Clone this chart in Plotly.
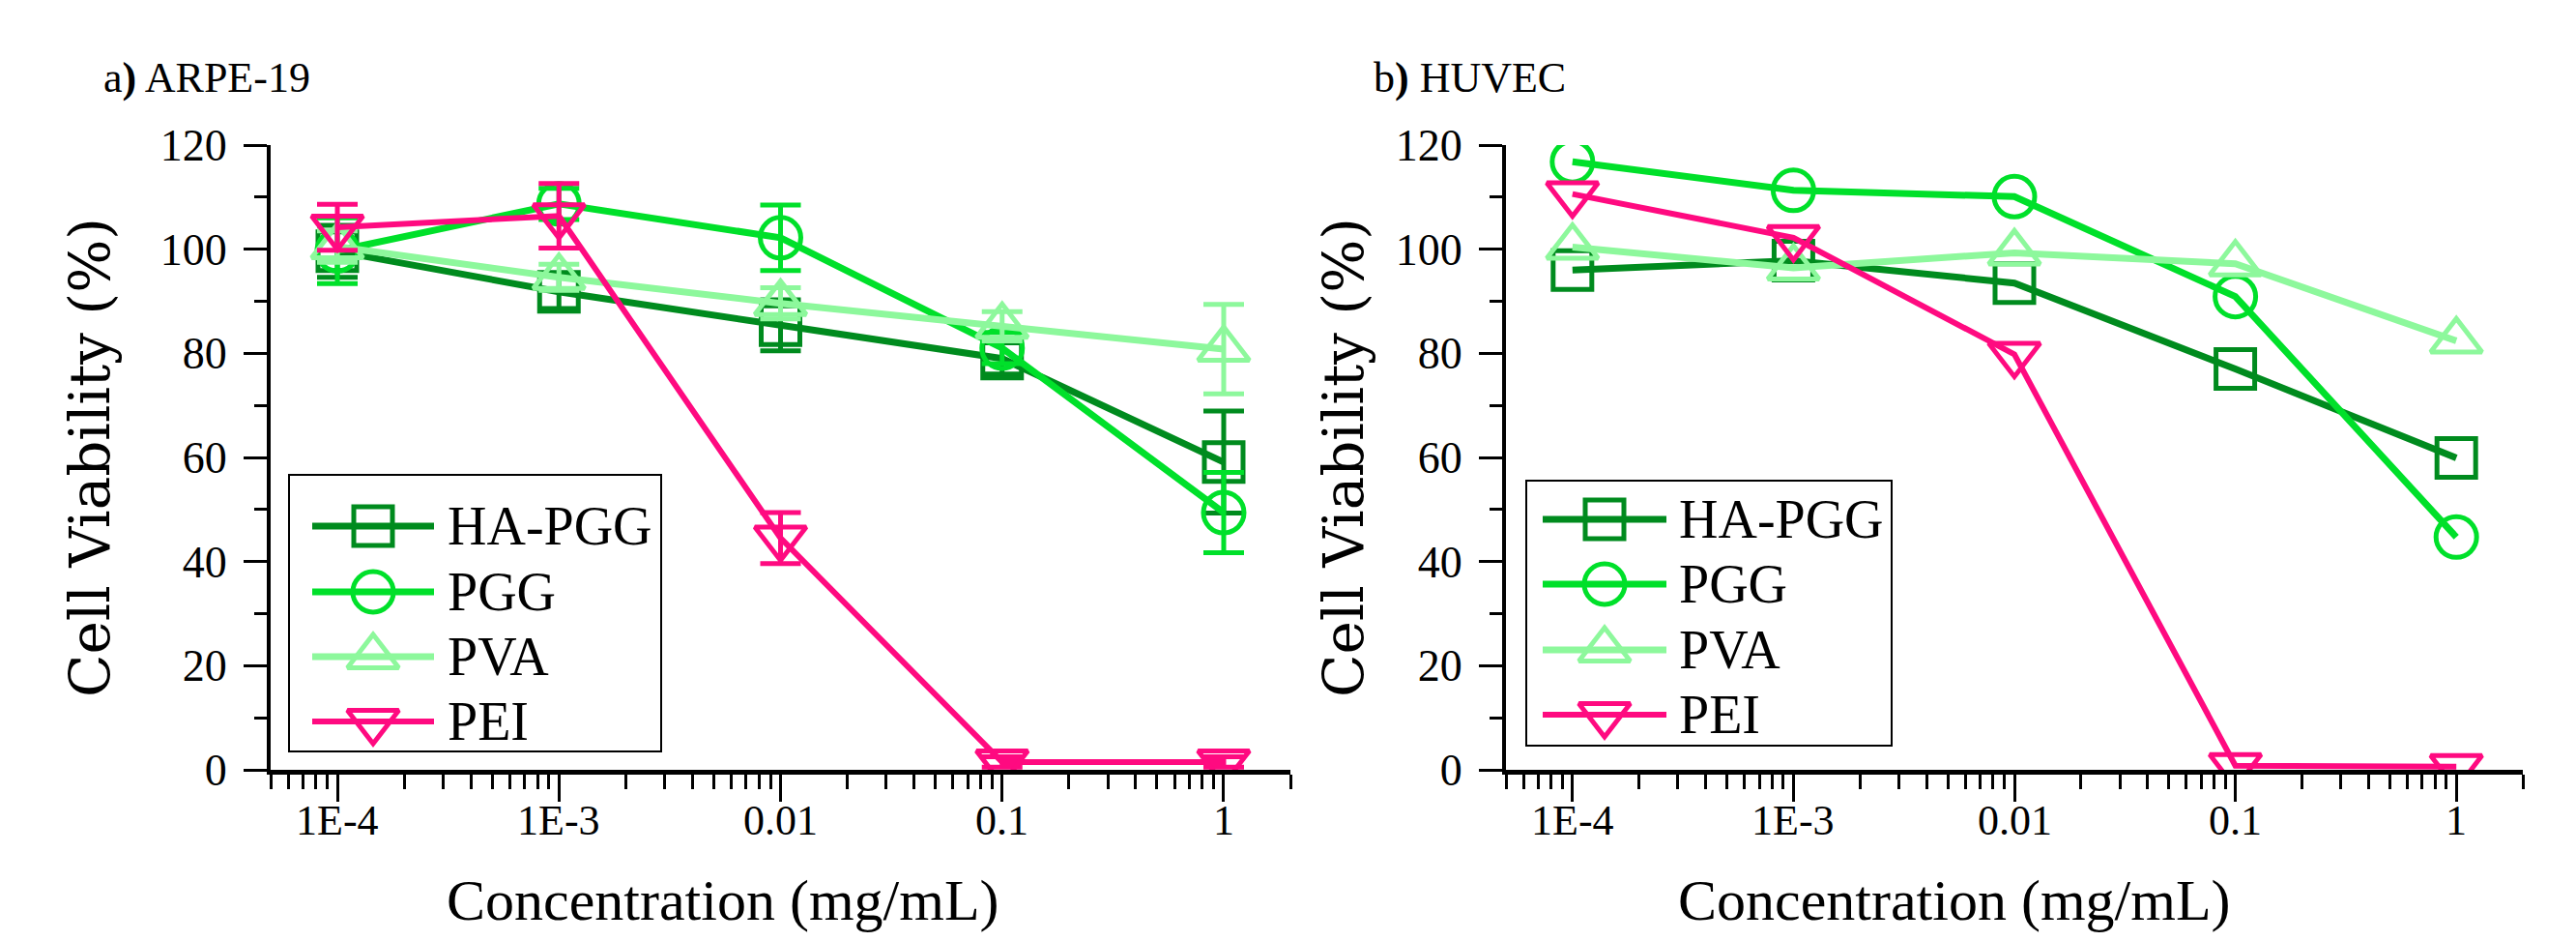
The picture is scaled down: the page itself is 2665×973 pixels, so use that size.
import math
import plotly.graph_objects as go

# ---------------- data ----------------
conc = [1e-4, 1e-3, 1e-2, 1e-1, 1]
tick_text = ["1E-4", "1E-3", "0.01", "0.1", "1"]
series_names = ["HA-PGG", "PGG", "PVA", "PEI"]

# panel a) ARPE-19
arpe_hapgg = [99.6, 91.8, 85.4, 79.0, 59.1]
arpe_hapgg_err = [5.0, 3.2, 4.9, 3.0, 9.8]
arpe_pgg = [99.7, 108.7, 102.2, 81.0, 49.4]
arpe_pgg_err = [6.3, 3.0, 6.3, 3.0, 7.7]
arpe_pva = [100.5, 94.6, 89.6, 85.2, 80.8]
arpe_pva_err = [3.0, 2.5, 3.0, 2.8, 8.6]
arpe_pei = [104.2, 106.4, 44.5, 1.5, 1.5]
arpe_pei_err = [4.4, 6.2, 4.9, 1.0, 1.0]

# panel b) HUVEC
huvec_hapgg = [96.0, 97.8, 93.5, 77.0, 59.9]
huvec_pgg = [116.8, 111.3, 110.1, 90.9, 44.7]
huvec_pva = [100.4, 96.4, 99.3, 97.2, 82.4]
huvec_pei = [110.6, 102.2, 79.8, 0.8, 0.6]

colors = ["#008B1E", "#00E02A", "#8DF89C", "#FF0A80"]
symbols = ["square-open", "circle-open", "triangle-up-open", "triangle-down-open"]
sizes = [40, 42, 46, 46]
line_widths = [7, 7, 7, 6]

W, H = 2665, 973
SERIF = "Liberation Serif, Times New Roman, serif"
WIDE = "DejaVu Serif, serif"

fig = go.Figure()

left_sets = [(arpe_hapgg, arpe_hapgg_err), (arpe_pgg, arpe_pgg_err),
             (arpe_pva, arpe_pva_err), (arpe_pei, arpe_pei_err)]
right_sets = [huvec_hapgg, huvec_pgg, huvec_pva, huvec_pei]


def marker(i):
    return dict(symbol=symbols[i], size=sizes[i], color=colors[i],
                line=dict(color=colors[i], width=5))


for i, (vals, errs) in enumerate(left_sets):
    fig.add_trace(go.Scatter(
        x=conc, y=vals, name=series_names[i], mode="lines+markers",
        xaxis="x", yaxis="y", showlegend=False,
        line=dict(color=colors[i], width=line_widths[i]),
        marker=marker(i),
        error_y=dict(type="data", array=errs, visible=True, color=colors[i],
                     thickness=5, width=21),
    ))

for i, vals in enumerate(right_sets):
    fig.add_trace(go.Scatter(
        x=conc, y=vals, name=series_names[i], mode="lines+markers",
        xaxis="x2", yaxis="y2", showlegend=False,
        line=dict(color=colors[i], width=line_widths[i]),
        marker=marker(i),
    ))

# ---------------- custom legends (layout, in pixel space) ----------------
legend_boxes = [
    dict(x0=299, x1=684, y0=491, y1=777, rows=[544, 612, 679, 746],
         lx0=323, lx1=449, text_x=461),
    dict(x0=1579, x1=1957, y0=497, y1=771, rows=[537, 604, 672, 739],
         lx0=1596, lx1=1724, text_x=1735),
]
shapes = []
legend_annots = []
for box in legend_boxes:
    shapes.append(dict(type="rect", xref="paper", yref="paper",
                       x0=box["x0"] / W, x1=box["x1"] / W,
                       y0=1 - box["y1"] / H, y1=1 - box["y0"] / H,
                       line=dict(color="black", width=2), fillcolor="rgba(0,0,0,0)",
                       layer="above"))
    for i, ry in enumerate(box["rows"]):
        mid = (box["lx0"] + box["lx1"]) / 2
        fig.add_trace(go.Scatter(
            x=[box["lx0"], box["lx1"]], y=[ry, ry], mode="lines",
            xaxis="x3", yaxis="y3", showlegend=False, hoverinfo="skip",
            line=dict(color=colors[i], width=line_widths[i]),
        ))
        fig.add_trace(go.Scatter(
            x=[mid], y=[ry], mode="markers",
            xaxis="x3", yaxis="y3", showlegend=False, hoverinfo="skip",
            marker=marker(i),
        ))
        legend_annots.append(dict(
            xref="paper", yref="paper",
            text=series_names[i], x=box["text_x"] / W, y=1 - ry / H,
            xanchor="left", yanchor="middle",
            font=dict(family=SERIF, size=56, color="black")))

minor_vals = [m * 10 ** e for e in range(-5, 1) for m in range(2, 10)
              if 5e-5 <= m * 10 ** e <= 2.0001]


def xaxis_style(domain, anchor):
    return dict(
        domain=domain, anchor=anchor, type="log", automargin=False,
        range=[math.log10(5e-5), math.log10(2)],
        tickmode="array", tickvals=conc, ticktext=tick_text, showticklabels=False,
        ticks="outside", ticklen=28, tickwidth=3, tickcolor="black",
        showline=True, linewidth=5, linecolor="black", mirror=False,
        showgrid=False, zeroline=False,
        minor=dict(tickmode="array", tickvals=minor_vals, ticks="outside",
                   ticklen=15, tickwidth=3, tickcolor="black", showgrid=False),
    )


def yaxis_style(anchor):
    return dict(
        domain=[177 / H, 823 / H], anchor=anchor, automargin=False,
        range=[0, 120], tickmode="linear", tick0=0, dtick=20,
        ticks="outside", ticklen=24, tickwidth=3, tickcolor="black",
        showline=True, linewidth=4, linecolor="black",
        showgrid=False, zeroline=False, ticklabelstandoff=8,
        tickfont=dict(family=SERIF, size=46, color="black"),
        minor=dict(dtick=10, ticks="outside", ticklen=13, tickwidth=3,
                   tickcolor="black", showgrid=False),
    )


fig.update_layout(
    template="none",
    width=W, height=H,
    margin=dict(l=0, r=0, t=0, b=0, pad=0),
    paper_bgcolor="white", plot_bgcolor="rgba(0,0,0,0)",
    xaxis=xaxis_style([280 / W, 1335 / W], "y"),
    yaxis=yaxis_style("x"),
    xaxis2=xaxis_style([1558 / W, 2610 / W], "y2"),
    yaxis2=yaxis_style("x2"),
    xaxis3=dict(domain=[0, 1], range=[0, W], anchor="y3", visible=False,
                automargin=False, fixedrange=True),
    yaxis3=dict(domain=[0, 1], range=[H, 0], anchor="x3", visible=False,
                automargin=False, fixedrange=True),
    showlegend=False,
    shapes=shapes,
)

# x tick labels placed at the tick values of each log axis
tick_annots = []
for xref in ["x", "x2"]:
    for v, t in zip(conc, tick_text):
        tick_annots.append(dict(
            xref=xref, yref="paper", x=math.log10(v), y=1 - 848 / H,
            text=t, xanchor="center", yanchor="middle",
            font=dict(family=SERIF, size=44, color="black")))

annotations = [
    dict(text="a<b>)</b> ARPE-19", x=105 / W, y=1 - 80 / H, xanchor="left", yanchor="middle",
         font=dict(family=SERIF, size=44, color="black")),
    dict(text="b<b>)</b> HUVEC", x=1419 / W, y=1 - 80 / H, xanchor="left", yanchor="middle",
         font=dict(family=SERIF, size=44, color="black")),
    dict(text="Cell Viability (%)", x=93 / W, y=1 - 473 / H, textangle=-90,
         xanchor="center", yanchor="middle",
         font=dict(family=WIDE, size=58, color="black")),
    dict(text="Cell Viability (%)", x=1390 / W, y=1 - 473 / H, textangle=-90,
         xanchor="center", yanchor="middle",
         font=dict(family=WIDE, size=58, color="black")),
    dict(text="Concentration (mg/mL)", x=748 / W, y=1 - 931 / H,
         xanchor="center", yanchor="middle",
         font=dict(family=SERIF, size=60, color="black")),
    dict(text="Concentration (mg/mL)", x=2022 / W, y=1 - 931 / H,
         xanchor="center", yanchor="middle",
         font=dict(family=SERIF, size=60, color="black")),
]
for a in annotations:
    a.update(xref="paper", yref="paper")
annotations = annotations + legend_annots + tick_annots
for a in annotations:
    a.update(showarrow=False)
fig.update_layout(annotations=annotations)

fig.write_html("out.html")
